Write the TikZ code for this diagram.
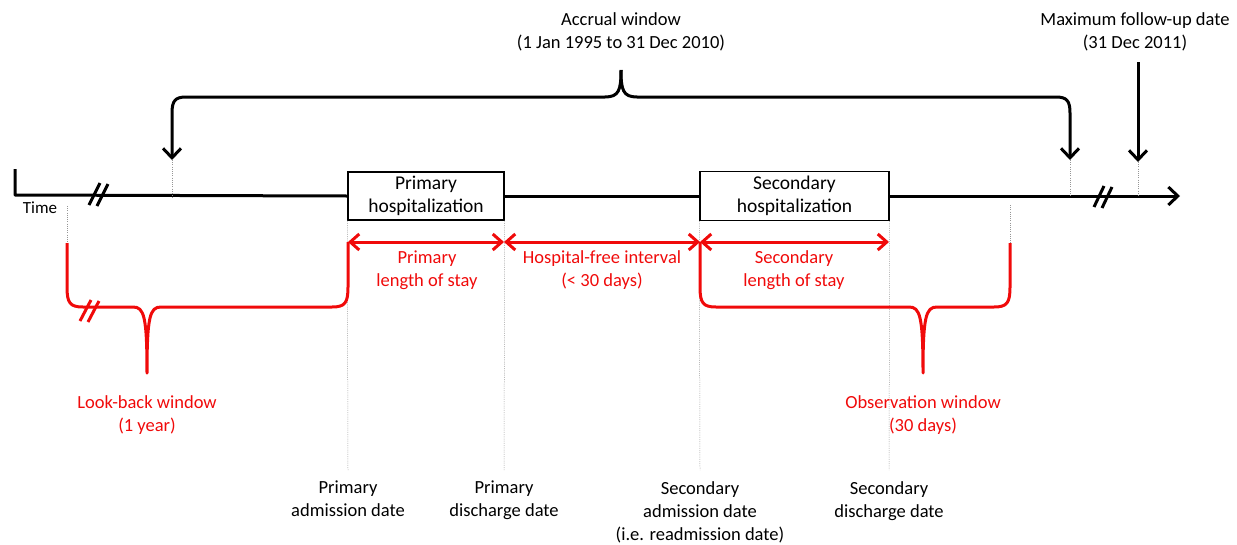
\documentclass[tikz,border=0pt]{standalone}
\usepackage{fontspec}
\setmainfont{Carlito}
\usetikzlibrary{arrows.meta}
\definecolor{myred}{RGB}{240,10,10}
\definecolor{guidegray}{RGB}{150,150,150}
\begin{document}
\begin{tikzpicture}[x=1pt,y=-1pt,
  txt/.style={font=\fontsize{18.5}{23}\selectfont, align=center, inner sep=0pt},
  redtxt/.style={txt, text=myred},
  hbox/.style={draw, line width=1.4pt, fill=white, align=center, inner sep=0pt, font=\fontsize{19.5}{23}\selectfont},
  heavy/.style={line width=3pt, line join=round},
  redline/.style={heavy, draw=myred},
  guide/.style={draw=guidegray, line width=0.5pt, dash pattern=on 1pt off 1.2pt},
  tipend/.style={-{Straight Barb[length=9.5pt,width=18pt]}},
  tipboth/.style={{Straight Barb[length=9pt,width=16pt]}-{Straight Barb[length=9pt,width=16pt]}}]
\useasboundingbox (0,0) rectangle (1237,544);

% boxes
\node[hbox, minimum width=156pt, minimum height=48pt] (prim) at (426,196) {Primary\\hospitalization};
\node[hbox, minimum width=189pt, minimum height=49pt] (sec) at (794.5,196) {Secondary\\hospitalization};

% coordinates
\coordinate (tick) at (15,169);
\coordinate (corner) at (15,195);
\coordinate (tend) at (1180,196);
\coordinate (accL) at (172,160);
\coordinate (accR) at (1070,160);
\coordinate (maxT) at (1138,62);
\coordinate (maxB) at (1138,162);

% timeline
\draw[heavy] (tick) -- (corner) -- (prim.west);
\draw[heavy] (prim.east) -- (sec.west);
\draw[heavy, tipend] (sec.east) -- (tend);
\node[font=\fontsize{17}{20}\selectfont, inner sep=0pt] (time) at (40,208) {Time};

% break marks
\draw[heavy] (89,205) -- (100,183);
\draw[heavy] (97,206) -- (108,184);
\draw[heavy] (1094,207) -- (1104,186);
\draw[heavy] (1102,208) -- (1112,187);

% accrual bracket
\draw[heavy, tipend] (621,70) .. controls (621,90) and (619,97) .. (605,97) -- (186,97)
   .. controls (175,97) and (172,101) .. (172,113) -- (accL);
\draw[heavy, tipend] (621,70) .. controls (621,90) and (623,97) .. (637,97) -- (1056,97)
   .. controls (1067,97) and (1070,101) .. (1070,113) -- (accR);
\node[txt] (acc) at (621,32) {Accrual window\\(1 Jan 1995 to 31 Dec 2010)};

% maximum follow-up
\draw[heavy, tipend] (maxT) -- (maxB);
\node[txt] (maxlab) at (1135,32) {Maximum follow-up date\\(31 Dec 2011)};

% guides from arrows to timeline
\draw[guide] (accL) -- (172,198);
\draw[guide] (accR) -- (1070,196);
\draw[guide] (maxB) -- (1138,196);
\draw[guide] (67,206) -- (67,243);
\draw[guide] (1010,205) -- (1010,243);

% vertical date guides
\coordinate (d1) at (348,470);
\coordinate (d2) at (504,470);
\coordinate (d3) at (700,470);
\coordinate (d4) at (889,470);
\draw[guide] (prim.south west) -- (d1);
\draw[guide] (prim.south east) -- (d2);
\draw[guide] (sec.south west) -- (d3);
\draw[guide] (sec.south east) -- (d4);

% red interval arrows
\coordinate (r1) at (348,242);
\coordinate (r2) at (504,242);
\coordinate (r3) at (700,242);
\coordinate (r4) at (889,242);
\draw[redline, tipboth] (r1) -- (r2);
\draw[redline, tipboth] (r2) -- (r3);
\draw[redline, tipboth] (r3) -- (r4);
\node[redtxt] (los1) at (427,270) {Primary\\length of stay};
\node[redtxt] (hfi) at (602,270) {Hospital-free interval\\(< 30 days)};
\node[redtxt] (los2) at (794,270) {Secondary\\length of stay};

% look-back bracket
\draw[redline] (67,243) -- (67,287) .. controls (67,303) and (70,307) .. (83,307) -- (133,307)
   .. controls (144,307) and (147,316) .. (147,373)
   .. controls (147,316) and (150,307) .. (161,307) -- (332,307)
   .. controls (345,307) and (348,303) .. (348,287) -- (r1);
\draw[redline] (80,321) -- (91,300);
\draw[redline] (88,322) -- (99,301);
\node[redtxt] (lb) at (147,415.5) {Look-back window\\(1 year)};

% observation bracket
\draw[redline] (r3) -- (700,287) .. controls (700,303) and (703,307) .. (716,307) -- (909,307)
   .. controls (920,307) and (923,316) .. (923,373)
   .. controls (923,316) and (926,307) .. (937,307) -- (994,307)
   .. controls (1007,307) and (1010,303) .. (1010,287) -- (1010,243);
\node[redtxt] (obs) at (923,415.5) {Observation window\\(30 days)};

% date labels
\node[txt, anchor=north] (ad1) at (348,481) {Primary\\admission date};
\node[txt, anchor=north] (dd1) at (504,481) {Primary\\discharge date};
\node[txt, anchor=north] (ad2) at (700,481) {Secondary\\admission date\\(i.e. readmission date)};
\node[txt, anchor=north] (dd2) at (889,481) {Secondary\\discharge date};
\end{tikzpicture}
\end{document}
